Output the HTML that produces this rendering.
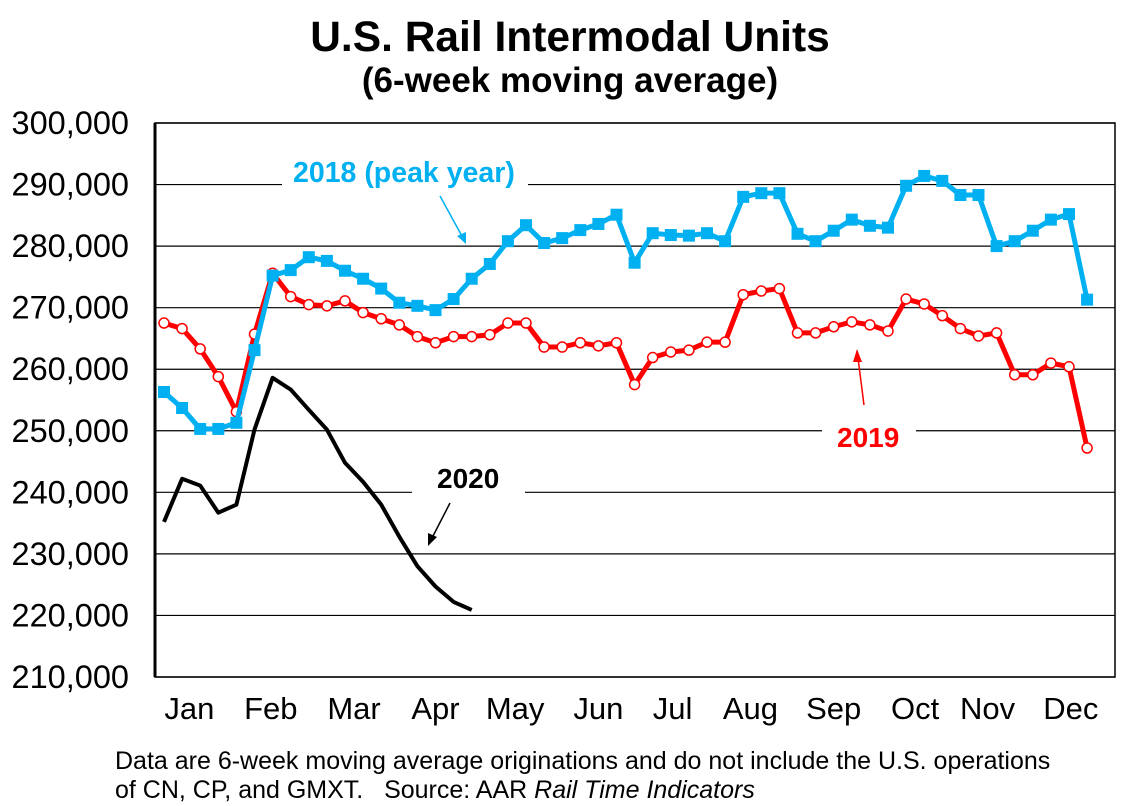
<!DOCTYPE html>
<html><head><meta charset="utf-8"><style>
body{margin:0;background:#fff;}
svg{display:block;font-family:"Liberation Sans",Arial,sans-serif;}
</style></head><body>
<svg id="c" width="1128" height="806" viewBox="0 0 1128 806">
<text x="570" y="51" text-anchor="middle" font-size="42.5" font-weight="bold">U.S. Rail Intermodal Units</text>
<text x="570" y="92" text-anchor="middle" font-size="35" font-weight="bold">(6-week moving average)</text>
<g id="grid"></g>
<g id="yticks"></g>
<g id="xticks"></g>
<g id="series"></g>
<rect x="155" y="123" width="960" height="554" fill="none" stroke="#000" stroke-width="1.5"/>
<line x1="155" y1="123" x2="155" y2="677" stroke="#000" stroke-width="3"/>
<rect x="282" y="175" width="246" height="20" fill="#fff"/>
<text x="293" y="182" font-size="28.5" font-weight="bold" fill="#00b0f0">2018 (peak year)</text>
<line x1="440" y1="196" x2="463" y2="238" stroke="#00b0f0" stroke-width="1.5"/>
<polygon points="466,244 457,236 466,232" fill="#00b0f0"/>
<rect x="822" y="421" width="94" height="20" fill="#fff"/>
<text x="837" y="447" font-size="28" font-weight="bold" fill="#ff0000">2019</text>
<line x1="864" y1="405" x2="858" y2="358" stroke="#ff0000" stroke-width="1.5"/>
<polygon points="857,349 853,362 862,362" fill="#ff0000"/>
<rect x="412" y="482" width="113" height="20" fill="#fff"/>
<text x="437" y="488" font-size="28" font-weight="bold" fill="#000">2020</text>
<line x1="450" y1="503" x2="432" y2="538" stroke="#000" stroke-width="1.5"/>
<polygon points="428,546 428,533 437,537" fill="#000"/>
<text x="115" y="769" font-size="25">Data are 6-week moving average originations and do not include the U.S. operations</text>
<text x="115" y="798" font-size="25" xml:space="preserve">of CN, CP, and GMXT.   Source: AAR <tspan font-style="italic">Rail Time Indicators</tspan></text>
</svg>
<script>
const yTicks=[210000,220000,230000,240000,250000,260000,270000,280000,290000,300000];
const months=["Jan","Feb","Mar","Apr","May","Jun","Jul","Aug","Sep","Oct","Nov","Dec"];
const monthWeek=[1.4,5.9,10.5,15,19.4,24,28.1,32.4,37,41.5,45.5,50.1];
const s2018=[256.3,253.7,250.3,250.3,251.3,263.1,275.2,276.1,278.2,277.6,276.0,274.7,273.1,270.8,270.3,269.6,271.4,274.7,277.1,280.8,283.4,280.5,281.3,282.6,283.6,285.1,277.3,282.1,281.8,281.7,282.1,280.8,288.0,288.6,288.6,282.0,280.8,282.5,284.3,283.3,283.0,289.8,291.4,290.6,288.3,288.3,280.0,280.8,282.5,284.3,285.2,271.3];
const s2019=[267.5,266.6,263.3,258.8,253.1,265.7,275.6,271.8,270.5,270.3,271.1,269.2,268.2,267.2,265.3,264.3,265.3,265.3,265.6,267.5,267.5,263.6,263.6,264.3,263.8,264.3,257.5,261.9,262.8,263.1,264.4,264.4,272.1,272.7,273.1,265.9,265.9,266.9,267.7,267.2,266.2,271.4,270.6,268.7,266.6,265.4,265.9,259.1,259.1,261.0,260.4,247.2];
const s2020=[235.2,242.2,241.1,236.7,238.0,250.2,258.6,256.7,253.4,250.2,244.8,241.7,238.0,232.8,228.0,224.7,222.2,220.9];

const NS="http://www.w3.org/2000/svg";
const X=i=>164+i*18.1;
const Y=v=>677-(v-210000)*554/90000;
function mk(tag,parent,attrs){const e=document.createElementNS(NS,tag);for(const k in attrs)e.setAttribute(k,attrs[k]);parent.appendChild(e);return e;}
const grid=document.getElementById('grid'),yt=document.getElementById('yticks'),xt=document.getElementById('xticks'),ser=document.getElementById('series');
yTicks.forEach(v=>{
  const l=mk('line',grid,{x1:155,x2:1115,y1:Y(v),y2:Y(v),stroke:'#000','stroke-width':1.2});
  
  
  const t=mk('text',yt,{x:129,y:Y(v)+11,'text-anchor':'end','font-size':32.5});
  t.textContent=v.toLocaleString('en-US');
  
  
});
months.forEach((m,i)=>{
  const t=mk('text',xt,{x:X(monthWeek[i]),y:719,'text-anchor':'middle','font-size':31});
  t.textContent=m;
  
  
});
function line(data,color,w,name){
  const p=mk('polyline',ser,{points:data.map((v,i)=>X(i)+','+Y(v*1000)).join(' '),fill:'none',stroke:color,'stroke-width':w,'stroke-linejoin':'round'});
  
  
}
line(s2019,'#ff0000',5,'line-2019');
s2019.forEach((v,i)=>{
  const c=mk('circle',ser,{cx:X(i),cy:Y(v*1000),r:5,fill:'#fff',stroke:'#ff0000','stroke-width':1.5});
  
  
});
line(s2018,'#00b0f0',5,'line-2018');
s2018.forEach((v,i)=>{
  const r=mk('rect',ser,{x:X(i)-6,y:Y(v*1000)-6,width:12,height:12,fill:'#00b0f0'});
  
  
});
line(s2020,'#000',4,'line-2020');
</script>
</body></html>
